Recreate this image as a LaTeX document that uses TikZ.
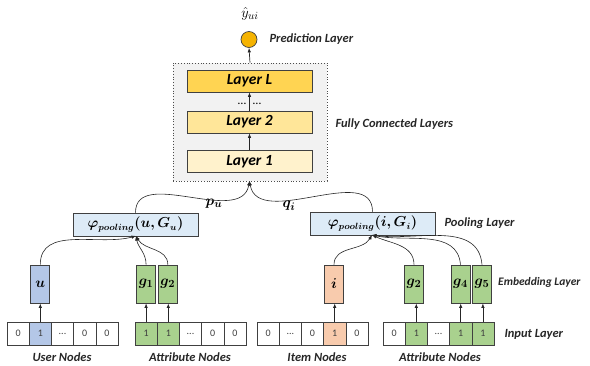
\documentclass[tikz,border=0pt]{standalone}
\usepackage{amsmath,bm}
\usepackage{fontspec}
\setmainfont{Carlito}
\usetikzlibrary{arrows.meta}
\definecolor{layL}{HTML}{FFD452}
\definecolor{lay2}{HTML}{FFE699}
\definecolor{lay1}{HTML}{FFF2CC}
\definecolor{poolc}{HTML}{DDEBF7}
\definecolor{ublue}{HTML}{B4C7E7}
\definecolor{ggreen}{HTML}{A9D18E}
\definecolor{iorange}{HTML}{F8CBAD}
\definecolor{bord}{HTML}{404040}
\definecolor{fcbg}{HTML}{F2F2F2}
\definecolor{predc}{HTML}{F5B301}
\begin{document}
\begin{tikzpicture}[x=1pt,y=-1pt,
  layerbox/.style={draw=bord, line width=0.8pt, minimum width=125pt, minimum height=22pt, inner sep=0pt, font=\bfseries\itshape\fontsize{15.5}{15.5}\selectfont},
  poolbox/.style={draw=bord, line width=0.8pt, fill=poolc, minimum width=125pt, minimum height=23pt, inner sep=0pt, font=\fontsize{13.5}{13.5}\selectfont},
  embbox/.style={draw=bord, line width=0.8pt, minimum width=19pt, minimum height=38pt, inner sep=0pt, font=\fontsize{15}{15}\selectfont},
  cellbox/.style={draw=bord, line width=0.6pt, minimum width=22.2pt, minimum height=23pt, inner sep=0pt, font=\fontsize{10}{10}\selectfont, text=black!75},
  lbl/.style={font=\bfseries\itshape\fontsize{12.5}{14}\selectfont, text=black!85},
  arr/.style={-{Latex[length=4.5pt,width=3.5pt]}, line width=0.7pt, draw=black!85},
  crv/.style={-{Latex[length=4.5pt,width=3.5pt]}, line width=0.6pt, draw=black!85}
]
\useasboundingbox (0,0) rectangle (590,365);

% prediction
\node[circle, draw=bord, fill=predc, line width=0.7pt, minimum size=16pt, inner sep=0pt] (pred) at (249,39.5) {};
\node[font=\fontsize{15}{15}\selectfont] (yhat) at (250,14) {$\hat{y}_{ui}$};
\node[lbl, anchor=west] (predlbl) at (266,39.5) {Prediction Layer};

% fully connected
\node[draw=black!70, dotted, line width=0.8pt, fill=fcbg, minimum width=154pt, minimum height=118pt, inner sep=0pt] (fc) at (250,122) {};
\node[layerbox, fill=layL] (lL) at (249.5,81) {Layer L};
\node[layerbox, fill=lay2] (l2) at (249.5,122) {Layer 2};
\node[layerbox, fill=lay1] (l1) at (249.5,161.5) {Layer 1};
\node[font=\fontsize{12}{12}\selectfont, inner sep=0pt] (d1) at (242,104) {\dots};
\node[font=\fontsize{12}{12}\selectfont, inner sep=0pt] (d2) at (257,104) {\dots};
\node[lbl, anchor=west] (fclbl) at (332,124) {Fully Connected Layers};
\draw[arr] (l1.north) -- (l2.south);
\draw[arr] (l2.north) -- (lL.south);
\draw[arr] (fc.north) -- (pred.south);

% pooling
\node[poolbox] (lp) at (135.5,224.5) {$\bm{\varphi_{pooling}(u,G_u)}$};
\node[poolbox] (rp) at (372.5,223.5) {$\bm{\varphi_{pooling}(i,G_i)}$};
\node[lbl, anchor=west] (poollbl) at (441,223) {Pooling Layer};
\node[font=\fontsize{15}{15}\selectfont] (pu) at (214,204) {$\bm{p_u}$};
\node[font=\fontsize{15}{15}\selectfont] (qi) at (289,206) {$\bm{q_i}$};
\coordinate (fcin) at (249.5,181);
\draw[crv] (lp.north) to[out=90, in=-100] (fcin);
\draw[crv] (rp.north) to[out=90, in=-80] (fcin);

% input cells
\foreach \n/\x/\t/\f in {u1/18.1/0/white, u2/40.3/1/ublue, u3/62.5/{...}/white, u4/84.7/0/white, u5/106.9/0/white,
  a1/146.1/1/ggreen, a2/168.3/1/ggreen, a3/190.5/{...}/white, a4/212.7/0/white, a5/234.9/0/white,
  i1/268.1/0/white, i2/290.3/{...}/white, i3/312.5/0/white, i4/334.7/1/iorange, i5/356.9/0/white,
  b1/394.1/0/white, b2/416.3/1/ggreen, b3/438.5/{...}/white, b4/460.7/1/ggreen, b5/482.9/1/ggreen}
  \node[cellbox, fill=\f] (\n) at (\x,333.5) {\t};
\node[lbl, anchor=west] (inlbl) at (501,334) {Input Layer};

% embeddings
\node[embbox, fill=ublue] (eu) at (40.3,284) {$\bm{u}$};
\node[embbox, fill=ggreen] (eg1) at (146.1,284) {$\bm{g_1}$};
\node[embbox, fill=ggreen] (eg2) at (167.8,284) {$\bm{g_2}$};
\node[embbox, fill=iorange] (ei) at (334,284) {$\bm{i}$};
\node[embbox, fill=ggreen] (fg2) at (414,284) {$\bm{g_2}$};
\node[embbox, fill=ggreen] (fg4) at (460.5,284) {$\bm{g_4}$};
\node[embbox, fill=ggreen] (fg5) at (482,284) {$\bm{g_5}$};
\node[lbl, anchor=west, font=\bfseries\itshape\fontsize{11.5}{14}\selectfont, inner sep=1pt] (emblbl) at (497,282) {Embedding Layer};

\draw[arr] (u2.north) -- (u2.north |- eu.south);
\draw[arr] (a1.north) -- (a1.north |- eg1.south);
\draw[arr] (a2.north) -- (a2.north |- eg2.south);
\draw[arr] (i4.north) -- (i4.north |- ei.south);
\draw[arr] (b2.north) -- (b2.north |- fg2.south);
\draw[arr] (b4.north) -- (b4.north |- fg4.south);
\draw[arr] (b5.north) -- (b5.north |- fg5.south);

% embedding to pooling
\coordinate (lpin) at (136,236);
\coordinate (rpin) at (372,235);
\draw[crv] (eu.north) to[out=90, in=195] (lpin);
\draw[crv] (eg1.north) to[out=90, in=-80] (lpin);
\draw[crv] (eg2.north) to[out=90, in=-60] (lpin);
\draw[crv] (ei.north) to[out=90, in=-120] (rpin);
\draw[crv] (fg2.north) to[out=90, in=-25] (rpin);
\draw[crv] (fg4.north) to[out=95, in=-12] (rpin);
\draw[crv] (fg5.north) to[out=95, in=-8] (rpin);

% bottom labels
\node[lbl] (un) at (62,357) {User Nodes};
\node[lbl] (an1) at (190,357) {Attribute Nodes};
\node[lbl] (itn) at (317,357) {Item Nodes};
\node[lbl] (an2) at (440,357) {Attribute Nodes};
\end{tikzpicture}
\end{document}
